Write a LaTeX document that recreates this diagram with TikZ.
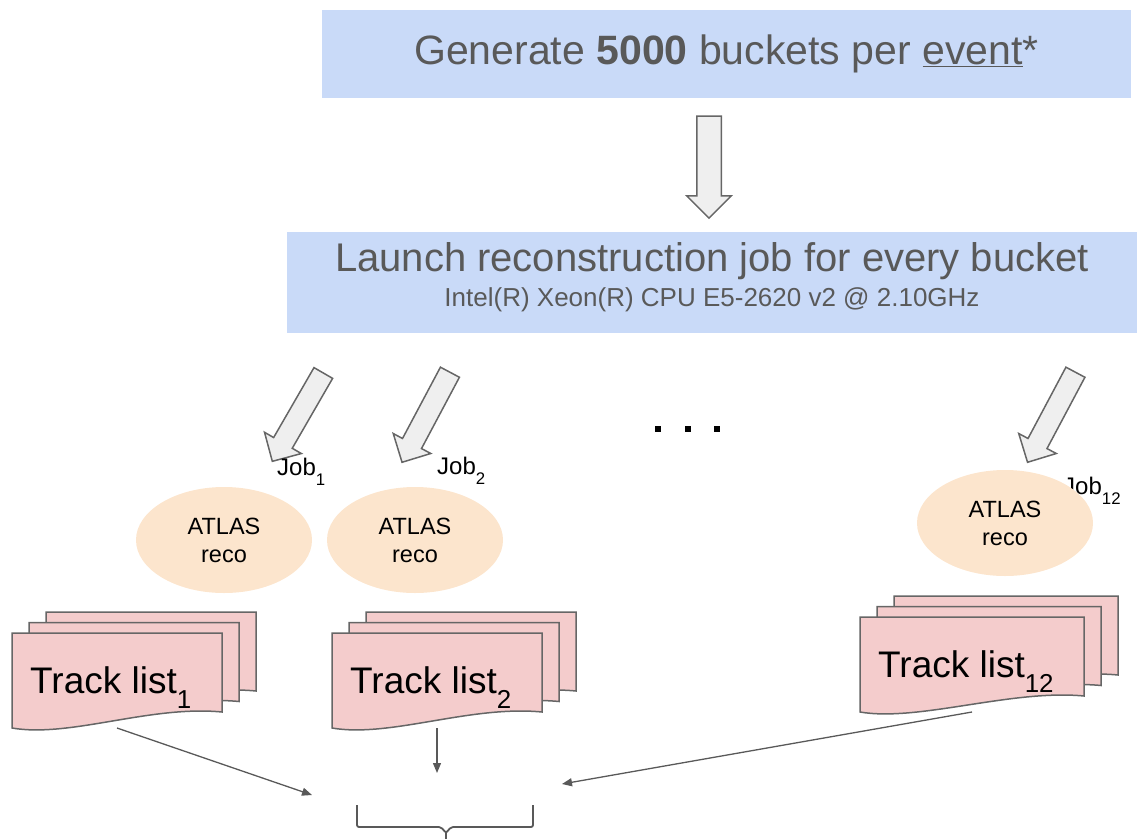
\documentclass[tikz,border=0pt]{standalone}
\usepackage{fontspec}
\setmainfont{Liberation Sans}
\usetikzlibrary{shapes.arrows,shapes.geometric,arrows.meta}

\definecolor{boxblue}{HTML}{C9DAF8}
\definecolor{txtgray}{HTML}{595959}
\definecolor{arrowfill}{HTML}{EFEFEF}
\definecolor{docpink}{HTML}{F4CCCC}
\definecolor{recopeach}{HTML}{FCE5CD}
\definecolor{linegray}{HTML}{666666}

% low, large subscript
\newcommand{\lowsub}[1]{\raisebox{-0.42em}{\scalebox{0.7}{#1}}}

\tikzset{
  stagebox/.style={fill=boxblue, text=txtgray, align=center, inner sep=0pt},
  blockarrow/.style={draw=linegray, fill=arrowfill, line width=1.5pt, single arrow,
    inner xsep=0pt, inner ysep=10pt, minimum height=102pt, single arrow head extend=10.5pt},
  reco/.style={ellipse, fill=recopeach, minimum width=176pt, minimum height=106pt,
    align=center, inner sep=0pt, font=\fontsize{23.5}{28}\selectfont},
  joblabel/.style={anchor=base west, inner sep=0pt, font=\fontsize{24}{26}\selectfont},
  docpage/.style={draw=linegray, fill=docpink, line width=1.5pt},
  doctext/.style={anchor=base west, inner sep=0pt, font=\fontsize{37}{40}\selectfont},
  flowline/.style={draw=txtgray, line width=1.3pt, -{Triangle[length=10pt,width=8pt]}},
}

% stack of three pages: name, x, y (top left of front page), width, index
\newcommand{\trackdoc}[5]{%
  \foreach \dx/\dy in {34/-21,17/-10.5,0/0}{
    \draw[docpage] ({#2+\dx},{#3+\dy}) -- ({#2+\dx+#4},{#3+\dy})
      -- ({#2+\dx+#4},{#3+\dy+79})
      .. controls ({#2+\dx+#4-72},{#3+\dy+72}) and ({#2+\dx+58},{#3+\dy+105})
      .. ({#2+\dx},{#3+\dy+95}) -- cycle;
  }
  \node[doctext] (#1) at ({#2+18},{#3+60}) {Track list\lowsub{#5}};
  \coordinate (#1-bot) at ({#2+0.5*#4},{#3+95});
}

\begin{document}
\begin{tikzpicture}[x=1pt, y=-1pt]

\useasboundingbox (0,0) rectangle (1137,838);

\node[stagebox, minimum width=809pt, minimum height=88pt, font=\fontsize{41}{48}\selectfont]
  (gen) at (726.5,54) {Generate \textbf{5000} buckets per \underline{event}*};
\node[stagebox, minimum width=850pt, minimum height=101pt]
  (launch) at (712,282.5) {\fontsize{40}{48}\selectfont Launch reconstruction job for every bucket\\[6pt]
  {\fontsize{26}{28}\selectfont Intel(R) Xeon(R) CPU E5-2620 v2 @ 2.10GHz\rule[-16pt]{0pt}{0pt}}};

\node[blockarrow, inner ysep=11.5pt, single arrow head extend=10pt, rotate=-90] (down) at (709,161) {};

\node[blockarrow, rotate=240] (ja1) at (300.5,412.5) {};
\node[blockarrow, rotate=242] (ja2) at (428.5,412.5) {};
\node[blockarrow, rotate=242] (ja12) at (1054,412.5) {};

\foreach \x in {658,688,717}
  \fill (\x-3,426) rectangle (\x+3,432);

\node[joblabel] (job1) at (277,475) {Job\lowsub{1}};
\node[joblabel] (job2) at (437,474) {Job\lowsub{2}};
\node[joblabel] (job12) at (1063,494) {Job\lowsub{12}};

\node[reco] (reco1) at (224,540) {ATLAS\\reco};
\node[reco] (reco2) at (415,540) {ATLAS\\reco};
\node[reco] (reco12) at (1005,523) {ATLAS\\reco};

\trackdoc{tl1}{12}{633}{210}{1}
\trackdoc{tl2}{332}{633}{210}{2}
\trackdoc{tl12}{860}{617}{224}{12}

\coordinate (m1) at (312,795);
\coordinate (m2) at (437,773);
\coordinate (m12) at (562,784);
\draw[flowline] (tl1-bot) -- (m1);
\draw[flowline] (tl2-bot) -- (m2);
\draw[flowline] (tl12-bot) -- (m12);

% brace
\draw[txtgray, line width=1.8pt, rounded corners=2pt]
  (357,805) -- (357,827) -- (441,827) -- (446,833) -- (451,827) -- (533,827) -- (533,805);
\draw[txtgray, line width=1.8pt] (446,832) -- (446,840);

\end{tikzpicture}
\end{document}
